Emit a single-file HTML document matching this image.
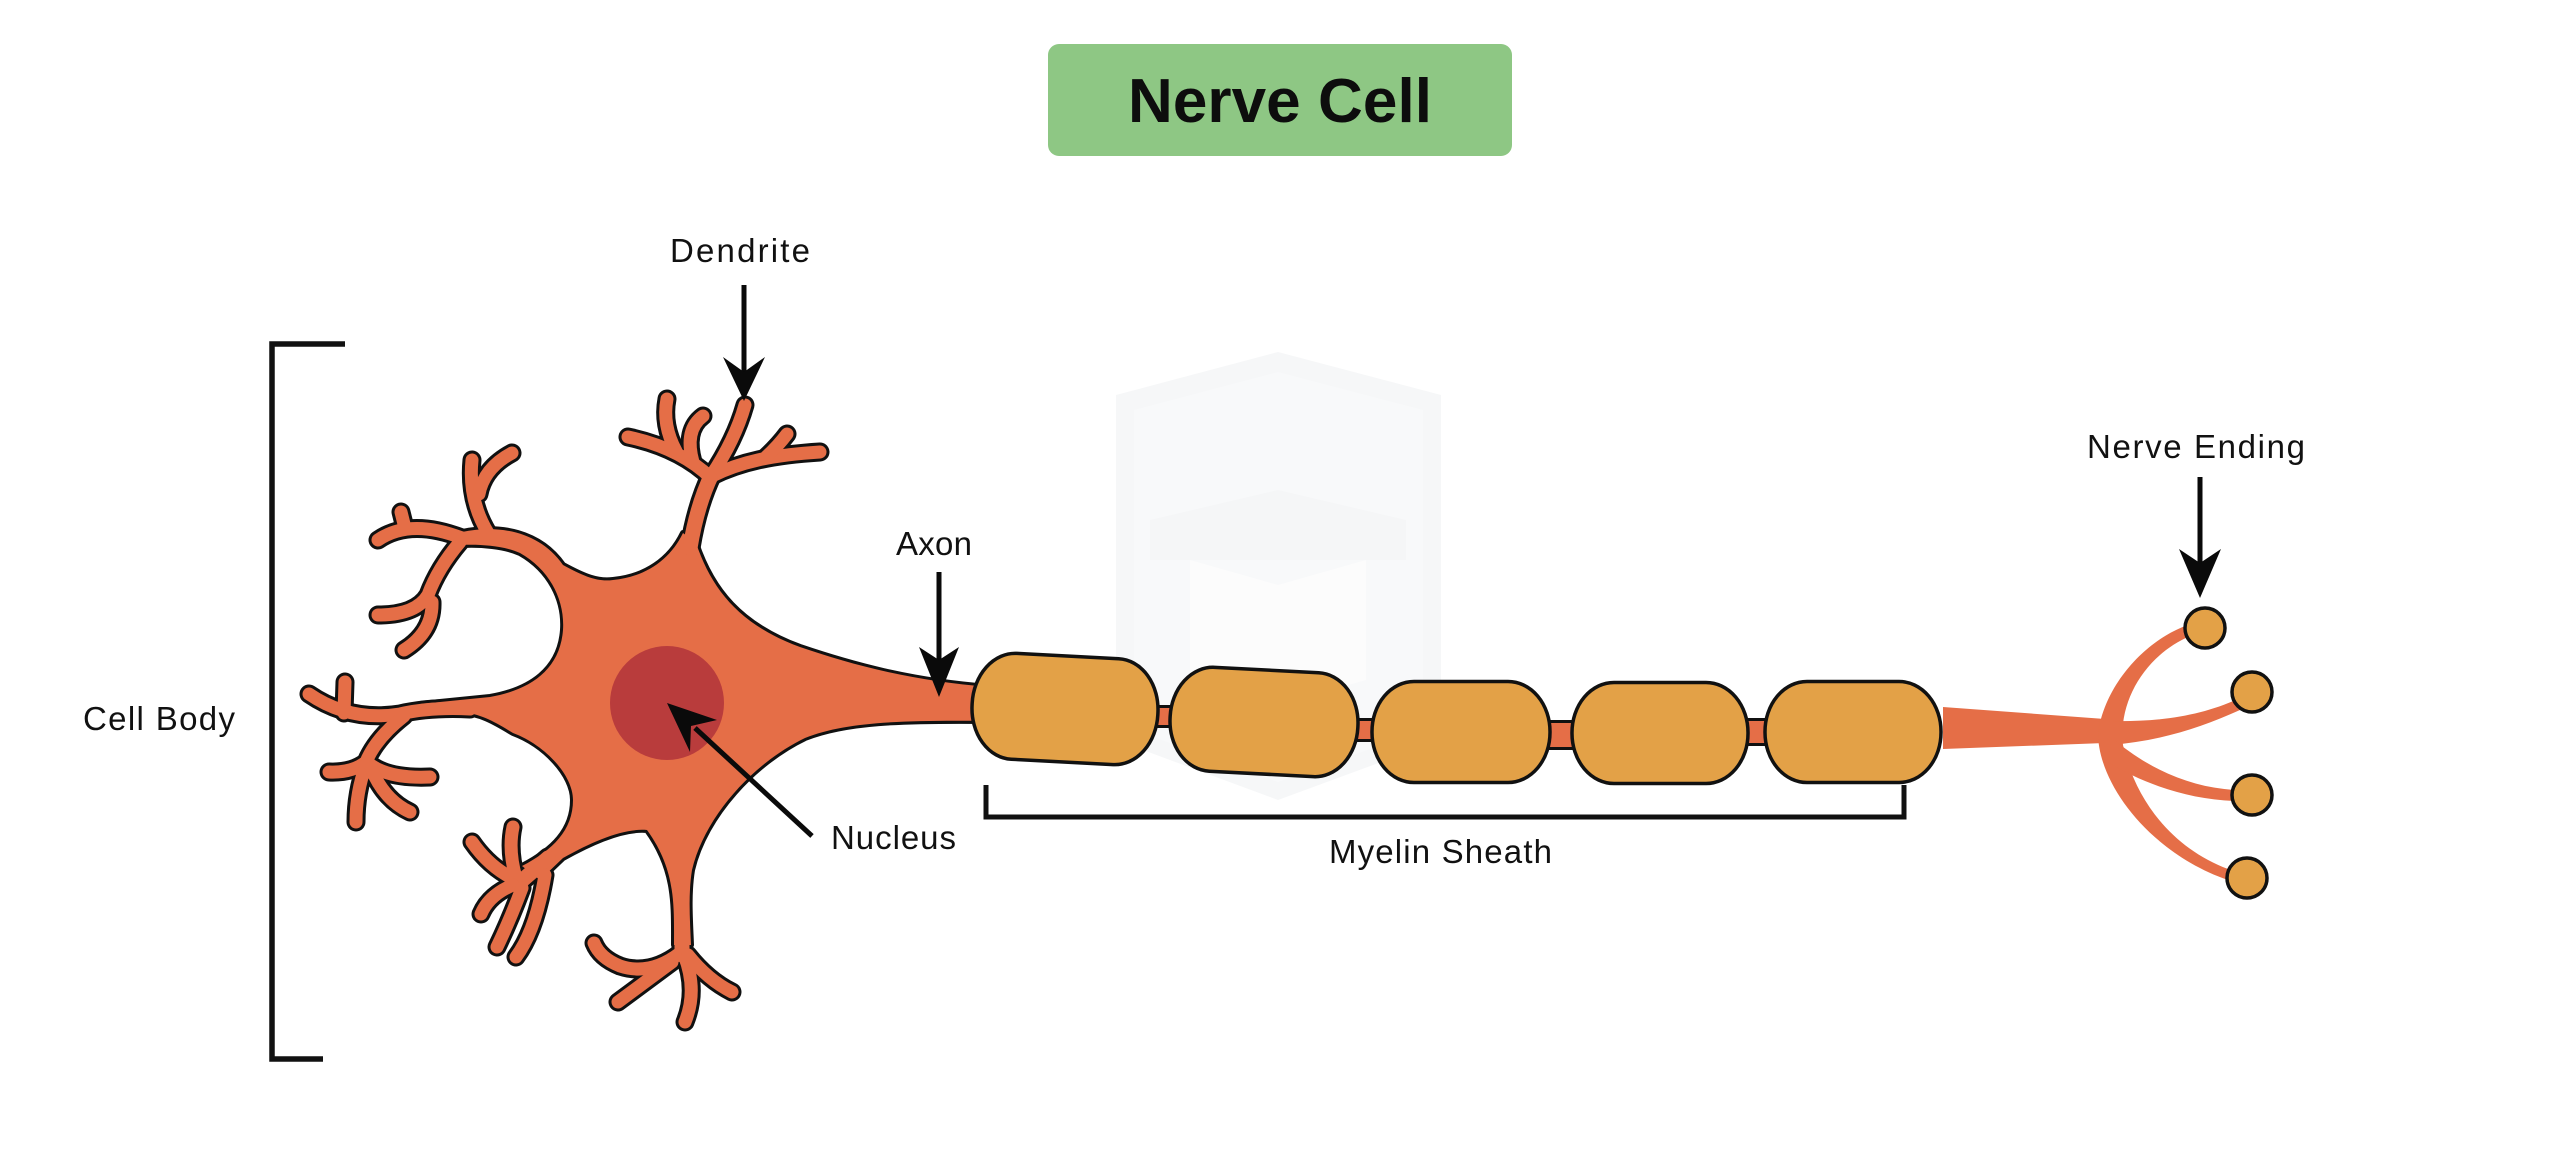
<!DOCTYPE html>
<html>
<head>
<meta charset="utf-8">
<style>
  html,body{margin:0;padding:0;background:#ffffff;}
  body{width:2560px;height:1156px;overflow:hidden;}
  svg{display:block;}
  .lbl{font-family:"Liberation Sans",sans-serif;font-size:33px;fill:#111;}
</style>
</head>
<body>
<svg width="2560" height="1156" viewBox="0 0 2560 1156" xmlns="http://www.w3.org/2000/svg">
  <rect x="0" y="0" width="2560" height="1156" fill="#ffffff"/>

  <!-- faint watermark shield -->
  <g>
    <polygon points="1278,352 1441,395 1441,740 1278,800 1116,740 1116,395" fill="#f6f7f8"/>
    <polygon points="1278,372 1423,410 1423,730 1278,782 1134,730 1134,410" fill="#f8f9fa"/>
    <polygon points="1150,520 1278,490 1406,520 1406,560 1150,560" fill="#f5f6f7"/>
    <polygon points="1190,560 1278,585 1366,560 1366,680 1278,705 1190,680" fill="#fcfcfc"/>
  </g>

  <!-- Title -->
  <rect x="1048" y="44" width="464" height="112" rx="11" ry="11" fill="#8ec784"/>
  <text x="1128" y="122" font-family="Liberation Sans, sans-serif" font-weight="bold" font-size="62" fill="#0d0d0d" textLength="304">Nerve Cell</text>

  <!-- Cell body bracket -->
  <polyline points="345,344 272,344 272,1059 323,1059" fill="none" stroke="#111" stroke-width="5.5"/>
  <text class="lbl" x="83" y="730" textLength="152">Cell Body</text>

  <!-- step 1: soma outline -->
  <path d="M 462,532
    C 500,524 540,532 563,565
    C 585,577 598,582 613,580
    C 645,577 670,560 683,533
    L 696,543
    C 712,590 740,625 800,647
    C 850,664 910,681 990,687
    L 990,721
    C 900,720 845,722 805,738
    C 755,762 705,815 692,870
    C 688,895 690,920 691,945
    L 674,945
    C 674,905 676,870 647,830
    C 625,828 595,840 563,858
    L 540,880
    L 522,866
    C 553,850 573,830 573,800
    C 573,775 545,745 513,733
    C 495,722 478,712 460,713
    L 420,715
    L 420,704
    L 490,697
    C 530,690 560,670 563,630
    C 565,600 550,570 520,553
    C 505,546 480,544 462,545 Z" fill="none" stroke="#111" stroke-width="6" stroke-linejoin="round"/>

  <!-- step 2: dendrite black outlines -->
  <g fill="none" stroke="#111" stroke-linecap="round" stroke-linejoin="round">
    <g stroke-width="21">
      <path d="M 690,548 Q 697,505 712,474"/>
      <path d="M 548,858 L 518,884"/>
      <path d="M 682,920 L 682,955"/>
    </g>
    <g stroke-width="19">
      <path d="M 711,476 Q 735,440 745,405"/>
      <path d="M 712,476 C 740,462 772,455 820,452"/>
      <path d="M 766,457 Q 778,446 787,434"/>
      <path d="M 711,478 Q 680,448 628,437"/>
      <path d="M 676,451 Q 662,425 667,399"/>
      <path d="M 693,462 Q 684,430 703,416"/>

      <path d="M 462,538 Q 410,518 378,540"/>
      <path d="M 404,524 L 401,512"/>
      <path d="M 488,533 Q 468,500 472,460"/>
      <path d="M 479,494 Q 484,468 512,453"/>
      <path d="M 460,542 Q 438,568 428,595 Q 416,615 378,615"/>
      <path d="M 432,602 Q 433,632 404,650"/>

      <path d="M 470,709 Q 430,707 400,714 Q 350,722 309,694"/>
      <path d="M 344,713 L 345,682"/>
      <path d="M 404,716 Q 376,738 366,762 Q 352,773 329,772"/>
      <path d="M 367,762 Q 386,779 430,777"/>
      <path d="M 366,765 Q 356,792 356,822"/>
      <path d="M 371,768 Q 384,800 410,812"/>

      <path d="M 516,880 Q 490,868 472,842"/>
      <path d="M 516,878 Q 508,850 513,827"/>
      <path d="M 513,885 Q 489,895 481,914"/>
      <path d="M 522,888 Q 510,920 497,947"/>
      <path d="M 545,875 Q 536,930 516,957"/>

      <path d="M 680,953 Q 650,976 620,966 Q 600,958 594,943"/>
      <path d="M 672,962 L 618,1002"/>
      <path d="M 684,955 Q 698,990 685,1022"/>
      <path d="M 688,955 Q 708,980 732,992"/>
    </g>
  </g>

  <!-- step 3: soma fill -->
  <path d="M 462,532
    C 500,524 540,532 563,565
    C 585,577 598,582 613,580
    C 645,577 670,560 683,533
    L 696,543
    C 712,590 740,625 800,647
    C 850,664 910,681 990,687
    L 990,721
    C 900,720 845,722 805,738
    C 755,762 705,815 692,870
    C 688,895 690,920 691,945
    L 674,945
    C 674,905 676,870 647,830
    C 625,828 595,840 563,858
    L 540,880
    L 522,866
    C 553,850 573,830 573,800
    C 573,775 545,745 513,733
    C 495,722 478,712 460,713
    L 420,715
    L 420,704
    L 490,697
    C 530,690 560,670 563,630
    C 565,600 550,570 520,553
    C 505,546 480,544 462,545 Z" fill="#e56e47" stroke="none"/>

  <!-- step 4: dendrite orange fill -->
  <g fill="none" stroke="#e56e47" stroke-linecap="round" stroke-linejoin="round">
    <g stroke-width="15">
      <path d="M 690,548 Q 697,505 712,474"/>
      <path d="M 548,858 L 518,884"/>
      <path d="M 682,920 L 682,955"/>
    </g>
    <g stroke-width="13">
      <path d="M 711,476 Q 735,440 745,405"/>
      <path d="M 712,476 C 740,462 772,455 820,452"/>
      <path d="M 766,457 Q 778,446 787,434"/>
      <path d="M 711,478 Q 680,448 628,437"/>
      <path d="M 676,451 Q 662,425 667,399"/>
      <path d="M 693,462 Q 684,430 703,416"/>

      <path d="M 462,538 Q 410,518 378,540"/>
      <path d="M 404,524 L 401,512"/>
      <path d="M 488,533 Q 468,500 472,460"/>
      <path d="M 479,494 Q 484,468 512,453"/>
      <path d="M 460,542 Q 438,568 428,595 Q 416,615 378,615"/>
      <path d="M 432,602 Q 433,632 404,650"/>

      <path d="M 470,709 Q 430,707 400,714 Q 350,722 309,694"/>
      <path d="M 344,713 L 345,682"/>
      <path d="M 404,716 Q 376,738 366,762 Q 352,773 329,772"/>
      <path d="M 367,762 Q 386,779 430,777"/>
      <path d="M 366,765 Q 356,792 356,822"/>
      <path d="M 371,768 Q 384,800 410,812"/>

      <path d="M 516,880 Q 490,868 472,842"/>
      <path d="M 516,878 Q 508,850 513,827"/>
      <path d="M 513,885 Q 489,895 481,914"/>
      <path d="M 522,888 Q 510,920 497,947"/>
      <path d="M 545,875 Q 536,930 516,957"/>

      <path d="M 680,953 Q 650,976 620,966 Q 600,958 594,943"/>
      <path d="M 672,962 L 618,1002"/>
      <path d="M 684,955 Q 698,990 685,1022"/>
      <path d="M 688,955 Q 708,980 732,992"/>
    </g>
  </g>

  <!-- nucleus -->
  <circle cx="667" cy="703" r="57" fill="#b93c3c"/>

  <!-- Axon / myelin -->
  <g fill="#e56e47" stroke="#111" stroke-width="3">
    <rect x="1150" y="706.5" width="30" height="20"/>
    <rect x="1350" y="719.5" width="30" height="21"/>
    <rect x="1540" y="721.5" width="40" height="27"/>
    <rect x="1740" y="719.5" width="32" height="25"/>
  </g>
  <g fill="#e3a147" stroke="#111" stroke-width="3.5">
    <rect x="972" y="656" width="186" height="106" rx="42" ry="52" transform="rotate(3 1065 709)"/>
    <rect x="1170" y="670" width="188" height="104" rx="42" ry="51" transform="rotate(3 1264 722)"/>
    <rect x="1372" y="681.5" width="178" height="101" rx="42" ry="50"/>
    <rect x="1572" y="682.5" width="176" height="101" rx="42" ry="50"/>
    <rect x="1765" y="681.5" width="176" height="101" rx="42" ry="50"/>
  </g>

  <!-- Myelin bracket -->
  <polyline points="986,785 986,817 1904,817 1904,785" fill="none" stroke="#111" stroke-width="5"/>
  <text class="lbl" x="1329" y="863" textLength="223">Myelin Sheath</text>

  <!-- Nerve ending -->
  <g fill="#e56e47">
    <polygon points="1943,707 2105,719 2105,743 1943,749"/>
    <path d="M 2188,625 C 2150,638 2106,680 2098,733 C 2098,784 2150,853 2228,880 L 2228,869 C 2172,848 2135,800 2123,745 C 2118,700 2146,655 2190,636 Z"/>
    <path d="M 2110,721 C 2160,722 2200,716 2238,699 L 2240,710 C 2200,728 2160,741 2110,745 Z"/>
    <path d="M 2112,738 C 2150,770 2190,787 2234,790 L 2234,801 C 2185,799 2140,782 2108,762 Z"/>
  </g>
  <g fill="#e3a147" stroke="#111" stroke-width="3.5">
    <circle cx="2205" cy="628" r="20"/>
    <circle cx="2252" cy="692" r="20"/>
    <circle cx="2252" cy="795" r="20"/>
    <circle cx="2247" cy="878" r="20"/>
  </g>

  <!-- Arrows -->
  <g stroke="#0a0a0a" stroke-width="5" fill="none">
    <line x1="744" y1="285" x2="744" y2="375"/>
    <line x1="939" y1="572" x2="939" y2="665"/>
    <line x1="2200" y1="477" x2="2200" y2="565"/>
    <line x1="812" y1="836" x2="695" y2="728"/>
  </g>
  <g fill="#0a0a0a">
    <polygon points="744,401 723,357 744,372 765,357"/>
    <polygon points="939,697 919,647 939,660 959,647"/>
    <polygon points="2200,598 2179,549 2200,563 2221,549"/>
    <polygon points="667,703 717,720 691,726 690,752"/>
  </g>

  <!-- Labels -->
  <text class="lbl" x="670" y="262" textLength="140">Dendrite</text>
  <text class="lbl" x="896" y="555" textLength="76">Axon</text>
  <text class="lbl" x="831" y="849" textLength="125">Nucleus</text>
  <text class="lbl" x="2087" y="458" textLength="218">Nerve Ending</text>
</svg>
</body>
</html>
